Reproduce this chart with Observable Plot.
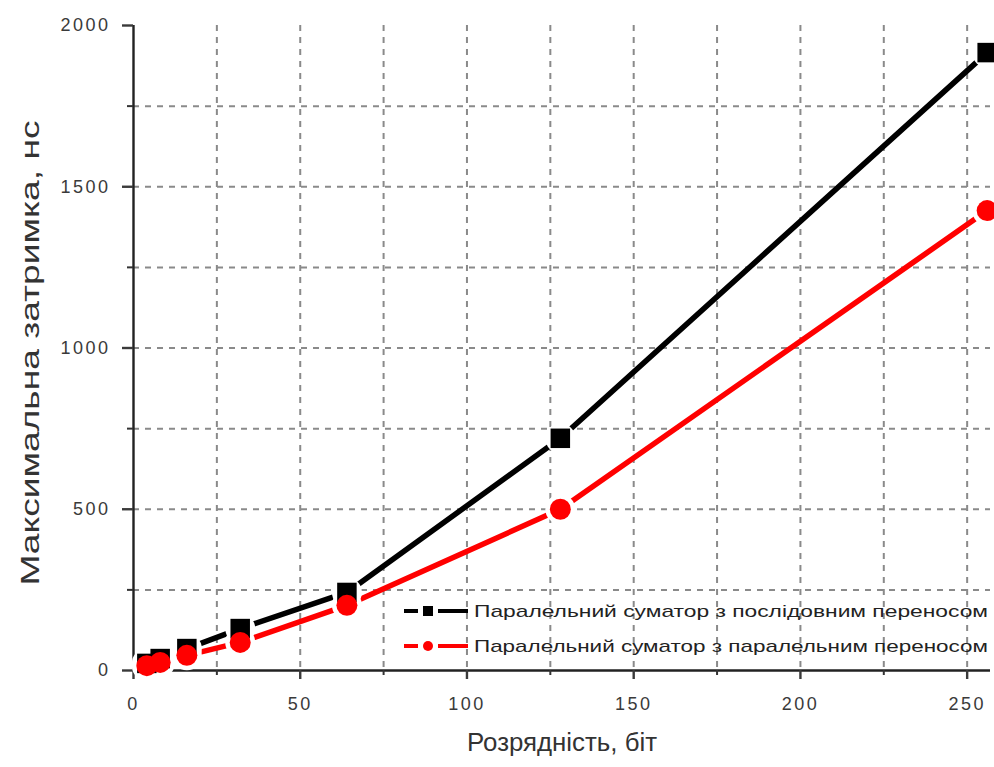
<!DOCTYPE html>
<html><head><meta charset="utf-8">
<script src="https://cdn.jsdelivr.net/npm/d3@7"></script>
<script src="https://cdn.jsdelivr.net/npm/@observablehq/plot@0.6"></script>
<style>
body{margin:0;background:#fff}
#chart{position:relative;width:994px;height:767px;overflow:hidden}
#legend{position:absolute;left:0;top:0;pointer-events:none}
</style>
</head><body><div id="chart"></div>
<script>
const bits = [4, 8, 16, 32, 64, 128, 256];
const serialDelay = [22, 37, 68, 130, 242, 720, 1916];
const parallelDelay = [15, 25, 47, 87, 202, 500, 1426];
const seriesNames = ["Паралельний суматор з послідовним переносом", "Паралельний суматор з паралельним переносом"];
const xTitle = "Розрядність, біт";
const yTitle = "Максимальна затримка, нс";
const xTicks = [0, 50, 100, 150, 200, 250];
const xMinor = [25, 75, 125, 175, 225];
const xGrid = [25, 50, 75, 100, 125, 150, 175, 200, 225, 250];
const yTicks = [0, 500, 1000, 1500, 2000];
const yMinor = [250, 750, 1250, 1750];
const yGrid = [250, 500, 750, 1000, 1250, 1500, 1750];

const serial = bits.map((b, i) => ({bits: b, delay: serialDelay[i]}));
const parallel = bits.map((b, i) => ({bits: b, delay: parallelDelay[i]}));
const all = serial.concat(parallel);

const grid = {stroke: "#8a8a8a", strokeOpacity: 1, strokeWidth: 2, strokeDasharray: "6,6"};

const plot = Plot.plot({
  width: 994, height: 767,
  marginLeft: 133, marginRight: 4, marginTop: 25, marginBottom: 97,
  x: {domain: [0, 257]},
  y: {domain: [0, 2000]},
  style: {fontFamily: "'Liberation Sans', Arial, sans-serif", background: "white", overflow: "visible"},
  marks: [
    Plot.gridX(xGrid, grid),
    Plot.gridY(yGrid, grid),
    Plot.ruleX([0], {stroke: "#222", strokeWidth: 2.4}),
    Plot.ruleY([0], {stroke: "#222", strokeWidth: 2.4}),
    Plot.axisX(xTicks, {tickSize: 9, tickPadding: 18, fontSize: 18, color: "#3a3a3a", strokeWidth: 2.4, label: null, tickFormat: d => String(d), className: "xt"}),
    Plot.axisX(xMinor, {tickSize: 5, tickFormat: () => "", color: "#333", strokeWidth: 2, label: null}),
    Plot.axisY(yTicks, {tickSize: 11, tickPadding: 12, fontSize: 18, color: "#3a3a3a", strokeWidth: 2.4, label: null, tickFormat: d => String(d), className: "yt"}),
    Plot.axisY(yMinor, {tickSize: 6, tickFormat: () => "", color: "#333", strokeWidth: 2, label: null}),
    Plot.text([xTitle], {frameAnchor: "bottom", dy: 80, fontSize: 25, fill: "#333", className: "xtitle"}),
    Plot.text([yTitle], {frameAnchor: "left", textAnchor: "middle", rotate: -90, dx: -103, dy: 5, fontSize: 25, fill: "#333", className: "ytitle"}),
    Plot.line(serial, {x: "bits", y: "delay", stroke: "#000", strokeWidth: 5.5}),
    Plot.line(parallel, {x: "bits", y: "delay", stroke: "#ff0000", strokeWidth: 5.5}),
    Plot.dot(all, {x: "bits", y: "delay", r: 15, fill: "white"}),
    Plot.dot(serial, {x: "bits", y: "delay", symbol: "square", r: 11, fill: "#000"}),
    Plot.dot(parallel, {x: "bits", y: "delay", r: 10.5, fill: "#ff0000"})
  ]
});

const svg = d3.select(plot);
svg.selectAll(".xt text, .yt text").style("letter-spacing", "2.5px");
svg.selectAll(".xtitle text").attr("textLength", 190).attr("lengthAdjust", "spacingAndGlyphs");
svg.selectAll(".ytitle text").attr("textLength", 465).attr("lengthAdjust", "spacingAndGlyphs");

const chart = document.getElementById("chart");
chart.appendChild(plot);

// Legend
const leg = d3.select(chart).append("svg").attr("id", "legend").attr("width", 994).attr("height", 767);
const rows = [
  {name: seriesNames[0], color: "#000", sym: "square", y: 611},
  {name: seriesNames[1], color: "#ff0000", sym: "circle", y: 646}
];
rows.forEach(r => {
  const g = leg.append("g");
  g.append("line").attr("x1", 404).attr("x2", 418).attr("y1", r.y).attr("y2", r.y).attr("stroke", r.color).attr("stroke-width", 4);
  g.append("line").attr("x1", 438).attr("x2", 468).attr("y1", r.y).attr("y2", r.y).attr("stroke", r.color).attr("stroke-width", 4);
  if (r.sym === "square") g.append("rect").attr("x", 423).attr("y", r.y - 5).attr("width", 10).attr("height", 10).attr("fill", r.color);
  else g.append("circle").attr("cx", 428).attr("cy", r.y).attr("r", 5).attr("fill", r.color);
  g.append("text").attr("x", 474).attr("y", r.y).attr("dy", "0.35em")
    .attr("font-family", "'Liberation Sans', Arial, sans-serif").attr("font-size", 17).attr("fill", "#222")
    .attr("textLength", 514).attr("lengthAdjust", "spacingAndGlyphs").text(r.name);
});
</script>
</body></html>
